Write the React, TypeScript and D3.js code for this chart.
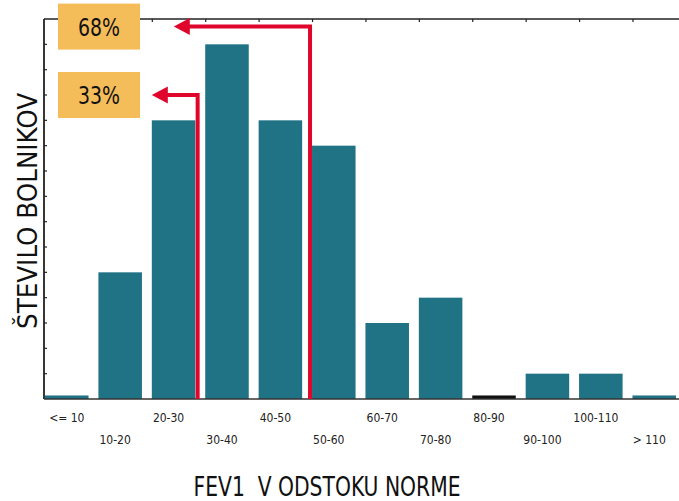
import React, { useEffect, useRef } from "react";
import * as d3 from "d3";

// FEV1 classes (percent of normal) and number of patients in each
const categories = [
  "<= 10", "10-20", "20-30", "30-40", "40-50", "50-60",
  "60-70", "70-80", "80-90", "90-100", "100-110", "> 110",
];
const counts = [0.1, 5, 11, 14, 11, 10, 3, 4, 0.1, 1, 1, 0.1];
const yTicks = d3.range(1, 15);

// cumulative share annotations
const shareLabels = ["68%", "33%"];
const shareLevels = [14.7, 12];

const W = 679;
const H = 501;
const FONT = "'Liberation Sans Narrow', 'DejaVu Sans Condensed', 'Arial Narrow', sans-serif";

export default function App() {
  const ref = useRef<SVGSVGElement>(null);

  useEffect(() => {
    const svg = d3.select(ref.current);
    svg.selectAll("*").remove();

    const x = d3.scaleBand<string>().domain(categories).range([45, 676]).paddingInner(0.185).paddingOuter(0);
    const y = d3.scaleLinear().domain([0, 15]).range([399, 19]);
    const left = 44;

    svg.append("rect").attr("width", W).attr("height", H).attr("fill", "#fff");

    // bars
    svg.append("g")
      .selectAll("rect")
      .data(categories)
      .join("rect")
      .attr("x", (d) => x(d)!)
      .attr("width", x.bandwidth())
      .attr("y", (d, i) => y(counts[i]) - (counts[i] < 1 ? 1 : 0))
      .attr("height", (d, i) => y(0) - y(counts[i]) + (counts[i] < 1 ? 1 : 0))
      .attr("fill", (d) => (d === "80-90" ? "#111" : "#207285"));

    // frame: left, top and bottom lines
    const axisColor = "#222";
    svg.append("line").attr("x1", left).attr("x2", left).attr("y1", y(15)).attr("y2", y(0))
      .attr("stroke", axisColor).attr("stroke-width", 1.8);
    svg.append("line").attr("x1", left).attr("x2", W).attr("y1", y(15)).attr("y2", y(15))
      .attr("stroke", axisColor).attr("stroke-width", 1.5);
    svg.append("line").attr("x1", left).attr("x2", W).attr("y1", y(0)).attr("y2", y(0))
      .attr("stroke", "#333").attr("stroke-width", 1.5);

    // y ticks (inside)
    svg.append("g")
      .selectAll("line")
      .data(yTicks)
      .join("line")
      .attr("x1", left).attr("x2", left + 3)
      .attr("y1", (d) => y(d)).attr("y2", (d) => y(d))
      .attr("stroke", axisColor).attr("stroke-width", 1.2);

    // top ticks at class boundaries
    svg.append("g")
      .selectAll("line")
      .data(categories.slice(1))
      .join("line")
      .attr("x1", (d) => x(d)! + 0.5).attr("x2", (d) => x(d)! + 0.5)
      .attr("y1", y(15)).attr("y2", y(15) + 3)
      .attr("stroke", axisColor).attr("stroke-width", 1.2);

    // category labels, staggered in two rows
    svg.append("g")
      .selectAll("text")
      .data(categories)
      .join("text")
      .attr("x", (d, i) => x(d)! + x.bandwidth() / 2 - (i === 0 ? 0 : 5))
      .attr("y", (d, i) => (i % 2 === 0 ? 422 : 444))
      .attr("text-anchor", "middle")
      .attr("font-family", FONT)
      .attr("font-size", 12)
      .attr("fill", "#222")
      .text((d) => d);

    // red cumulative lines with arrows
    const red = "#e0062b";
    const lineX = [x("50-60")! - 2, x("20-30")! + x.bandwidth() + 2.3];
    const tipX = [x("20-30")! + 22, x("20-30")!];
    shareLabels.forEach((lab, i) => {
      const yl = y(shareLevels[i]);
      svg.append("path")
        .attr("d", `M${lineX[i]},${y(0)} V${yl} H${tipX[i] + 14}`)
        .attr("fill", "none")
        .attr("stroke", red)
        .attr("stroke-width", 4)
        .attr("stroke-linejoin", "miter");
      svg.append("path")
        .attr("d", `M${tipX[i]},${yl} L${tipX[i] + 16},${yl - 8.5} L${tipX[i] + 16},${yl + 8.5} Z`)
        .attr("fill", red);

      // orange label box
      svg.append("rect")
        .attr("x", 58).attr("y", yl - 23)
        .attr("width", 82).attr("height", 46)
        .attr("fill", "#f5bc5a");
      svg.append("text")
        .attr("x", 99).attr("y", yl + 9)
        .attr("text-anchor", "middle")
        .attr("font-family", FONT)
        .attr("font-size", 25)
        .attr("textLength", 42)
        .attr("lengthAdjust", "spacingAndGlyphs")
        .attr("fill", "#111")
        .text(lab);
    });

    // axis titles
    svg.append("text")
      .attr("transform", `translate(37,${(y(0) + y(15)) / 2 + 2}) rotate(-90)`)
      .attr("text-anchor", "middle")
      .attr("font-family", FONT)
      .attr("font-size", 27)
      .attr("textLength", 236)
      .attr("lengthAdjust", "spacingAndGlyphs")
      .attr("fill", "#111")
      .text("ŠTEVILO BOLNIKOV");

    svg.append("text")
      .attr("x", 327).attr("y", 496)
      .attr("text-anchor", "middle")
      .attr("font-family", FONT)
      .attr("font-size", 26)
      .attr("textLength", 267)
      .attr("lengthAdjust", "spacingAndGlyphs")
      .attr("fill", "#111")
      .style("white-space", "pre")
      .text("FEV1  V ODSTOKU NORME");
  }, []);

  return (
    <svg
      ref={ref}
      width={W}
      height={H}
      style={{ position: "absolute", left: 0, top: 0, display: "block" }}
    />
  );
}
